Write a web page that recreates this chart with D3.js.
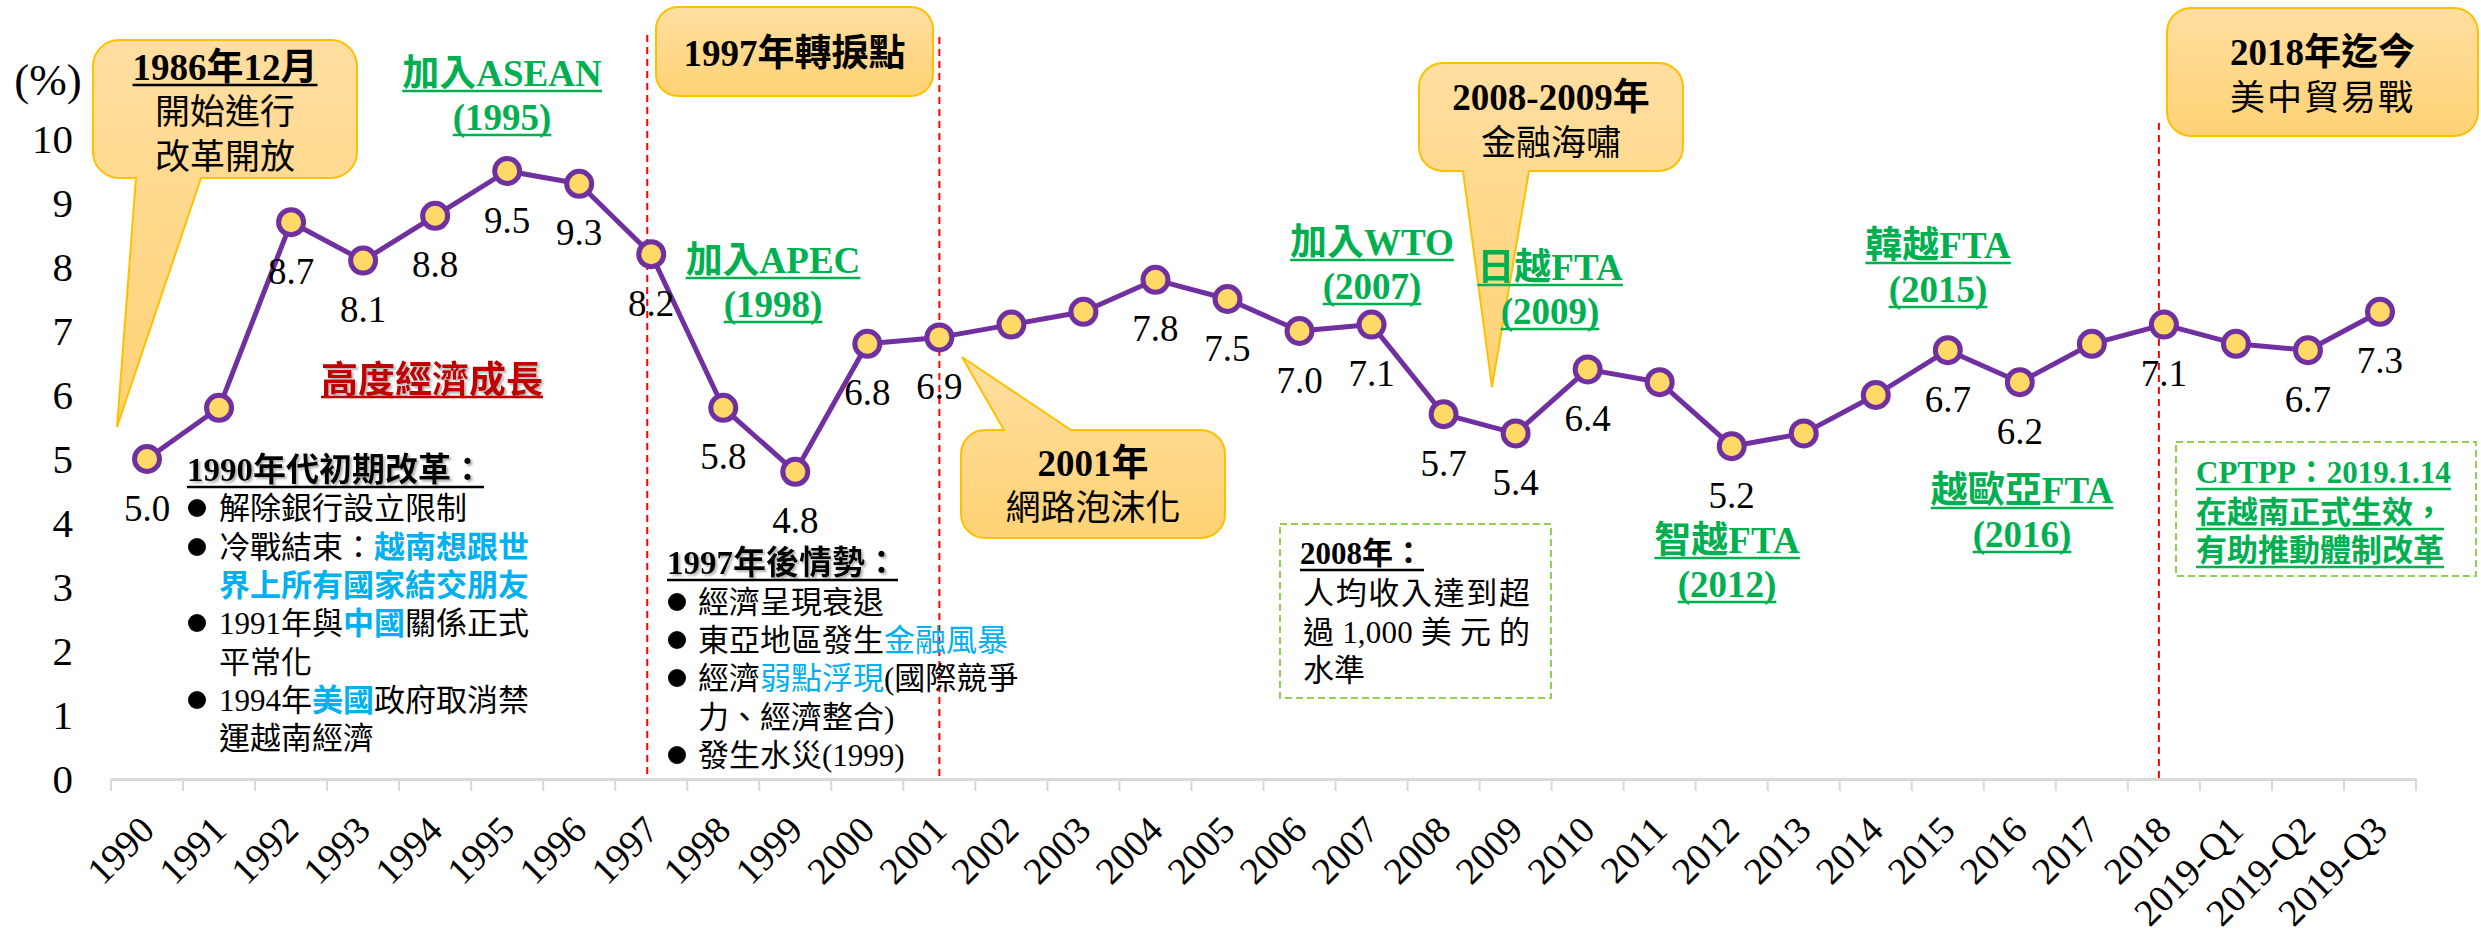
<!DOCTYPE html>
<html>
<head>
<meta charset="utf-8">
<script src="https://cdn.jsdelivr.net/npm/d3@7"></script>
<style>
  html, body { margin: 0; padding: 0; background: #ffffff; }
  svg text { font-family: 'Liberation Serif', 'Noto Sans CJK TC', serif; }
</style>
</head>
<body>
<div id="chart"></div>
<script>
'use strict';

// GDP growth of Vietnam (%)
const categories = ['1990', '1991', '1992', '1993', '1994', '1995', '1996', '1997', '1998', '1999',
    '2000', '2001', '2002', '2003', '2004', '2005', '2006', '2007', '2008', '2009',
    '2010', '2011', '2012', '2013', '2014', '2015', '2016', '2017', '2018',
    '2019-Q1', '2019-Q2', '2019-Q3'];
const growth = [5.0, 5.8, 8.7, 8.1, 8.8, 9.5, 9.3, 8.2, 5.8, 4.8,
    6.8, 6.9, 7.1, 7.3, 7.8, 7.5, 7.0, 7.1, 5.7, 5.4,
    6.4, 6.2, 5.2, 5.4, 6.0, 6.7, 6.2, 6.8, 7.1,
    6.8, 6.7, 7.3];
const labelledCategories = ['1990', '1992', '1993', '1994', '1995', '1996', '1997', '1998', '1999',
    '2000', '2001', '2004', '2005', '2006', '2007', '2008', '2009', '2010', '2012',
    '2015', '2016', '2018', '2019-Q2', '2019-Q3'];
const yTicks = [0, 1, 2, 3, 4, 5, 6, 7, 8, 9, 10];

const W = 2481;
const H = 938;
const FONT = "'Liberation Serif', 'Noto Sans CJK TC', serif";
const colour = {
    line: '#7030A0',
    marker: '#FFD966',
    green: '#00B050',
    blue: '#00B0F0',
    red: '#C00000',
    axis: '#D9D9D9',
    boxStroke: '#FFC000',
    dash: '#92D050'
};

const svg = d3.select('#chart')
    .append('svg')
    .attr('width', W)
    .attr('height', H);

svg.append('rect').attr('width', W).attr('height', H).attr('fill', '#ffffff');

const defs = svg.append('defs');
const grad = defs.append('linearGradient')
    .attr('id', 'boxFill')
    .attr('x1', 0).attr('y1', 0).attr('x2', 0).attr('y2', 1);
grad.append('stop').attr('offset', '0%').attr('stop-color', '#FFDEA0');
grad.append('stop').attr('offset', '100%').attr('stop-color', '#FFD274');

const shadow = defs.append('filter').attr('id', 'shadow')
    .attr('x', '-5%').attr('y', '-20%').attr('width', '115%').attr('height', '150%');
shadow.append('feDropShadow')
    .attr('dx', 2).attr('dy', 2).attr('stdDeviation', 1)
    .attr('flood-color', '#808080').attr('flood-opacity', 0.6);

const x = d3.scaleBand()
    .domain(categories)
    .range([111, 2416])
    .padding(0);

const y = d3.scaleLinear()
    .domain([0, 10])
    .range([779, 139]);

function cx(c) {
    return x(c) + x.bandwidth() / 2;
}

// axes
const xAxis = svg.append('g')
    .attr('transform', `translate(0,${y(0)})`)
    .call(d3.axisBottom(x).tickSize(0).tickSizeOuter(0).tickPadding(0));

xAxis.select('.domain')
    .attr('stroke', colour.axis)
    .attr('stroke-width', 3);

xAxis.selectAll('.tick text')
    .attr('font-family', FONT)
    .attr('font-size', 38)
    .attr('fill', '#000')
    .attr('text-anchor', 'end')
    .attr('y', 0)
    .attr('dy', '0.35em')
    .attr('transform', 'translate(0,44) rotate(-45)');

const boundaries = d3.range(categories.length + 1).map(function (i) {
    return x.range()[0] + i * x.step();
});

xAxis.selectAll('line.bound')
    .data(boundaries)
    .join('line')
    .attr('class', 'bound')
    .attr('x1', function (d) { return d; })
    .attr('x2', function (d) { return d; })
    .attr('y1', 0)
    .attr('y2', 12)
    .attr('stroke', colour.axis)
    .attr('stroke-width', 2);

const yAxis = svg.append('g')
    .attr('transform', `translate(${x.range()[0]},0)`)
    .call(d3.axisLeft(y).tickValues(yTicks).tickSize(0).tickPadding(38));

yAxis.select('.domain').remove();
yAxis.selectAll('.tick text')
    .attr('font-family', FONT)
    .attr('font-size', 41)
    .attr('fill', '#000');

svg.append('text')
    .attr('x', 48)
    .attr('y', 80)
    .attr('text-anchor', 'middle')
    .attr('dominant-baseline', 'central')
    .attr('font-size', 45)
    .text('(%)');

// era separators
const eraLines = [
    { cat: '1997', dx: -4, top: 35 },
    { cat: '2001', dx: 0, top: 37 },
    { cat: '2018', dx: -5, top: 123 }
];

svg.selectAll('line.era')
    .data(eraLines)
    .join('line')
    .attr('class', 'era')
    .attr('x1', function (d) { return cx(d.cat) + d.dx; })
    .attr('x2', function (d) { return cx(d.cat) + d.dx; })
    .attr('y1', function (d) { return d.top; })
    .attr('y2', y(0))
    .attr('stroke', '#FF0000')
    .attr('stroke-width', 2)
    .attr('stroke-dasharray', '7,5');

// callout boxes
function calloutPath(b, p) {
    const r = b.r;
    const x0 = b.x, y0 = b.y, x1 = b.x + b.w, y1 = b.y + b.h;
    let d = `M${x0 + r},${y0}`;
    if (p && p.side === 'top') {
        d += `L${p.a},${y0}L${p.tx},${p.ty}L${p.b},${y0}`;
    }
    d += `L${x1 - r},${y0}A${r},${r} 0 0 1 ${x1},${y0 + r}`;
    d += `L${x1},${y1 - r}A${r},${r} 0 0 1 ${x1 - r},${y1}`;
    if (p && p.side === 'bottom') {
        d += `L${p.b},${y1}L${p.tx},${p.ty}L${p.a},${y1}`;
    }
    d += `L${x0 + r},${y1}A${r},${r} 0 0 1 ${x0},${y1 - r}`;
    d += `L${x0},${y0 + r}A${r},${r} 0 0 1 ${x0 + r},${y0}Z`;
    return d;
}

const callouts = [
    { box: { x: 93, y: 40, w: 264, h: 138, r: 26 },
      ptr: { side: 'bottom', a: 136, b: 201, tx: 117, ty: 427 },
      lines: [
          { t: '1986年12月', y: 67, size: 37, bold: true, under: true },
          { t: '開始進行', y: 112, size: 35 },
          { t: '改革開放', y: 157, size: 35 }
      ] },
    { box: { x: 656, y: 7, w: 277, h: 89, r: 22 },
      ptr: null,
      lines: [
          { t: '1997年轉捩點', y: 53, size: 37, bold: true }
      ] },
    { box: { x: 961, y: 430, w: 264, h: 108, r: 24 },
      ptr: { side: 'top', a: 1004, b: 1071, tx: 962, ty: 357 },
      lines: [
          { t: '2001年', y: 463, size: 37, bold: true },
          { t: '網路泡沫化', y: 508, size: 35 }
      ] },
    { box: { x: 1419, y: 63, w: 264, h: 108, r: 24 },
      ptr: { side: 'bottom', a: 1463, b: 1529, tx: 1492, ty: 387 },
      lines: [
          { t: '2008-2009年', y: 97, size: 37, bold: true },
          { t: '金融海嘯', y: 143, size: 35 }
      ] },
    { box: { x: 2167, y: 8, w: 311, h: 128, r: 24 },
      ptr: null,
      lines: [
          { t: '2018年迄今', y: 52, size: 37, bold: true },
          { t: '美中貿易戰', y: 98, size: 35, spacing: 2 }
      ] }
];

function underline(textSel, colourName, offset) {
    const bb = textSel.node().getBBox();
    textSel.node().parentNode.appendChild(
        svg.append('line')
            .attr('x1', bb.x)
            .attr('x2', bb.x + bb.width)
            .attr('y1', +textSel.attr('y') + offset)
            .attr('y2', +textSel.attr('y') + offset)
            .attr('stroke', colourName)
            .attr('stroke-width', 2.5)
            .node()
    );
}

callouts.forEach(function (c) {
    const g = svg.append('g');
    g.append('path')
        .attr('d', calloutPath(c.box, c.ptr))
        .attr('fill', 'url(#boxFill)')
        .attr('stroke', colour.boxStroke)
        .attr('stroke-width', 2);
    c.lines.forEach(function (l) {
        const t = g.append('text')
            .attr('x', c.box.x + c.box.w / 2)
            .attr('y', l.y)
            .attr('text-anchor', 'middle')
            .attr('dominant-baseline', 'central')
            .attr('font-size', l.size)
            .attr('font-weight', l.bold ? 700 : 400)
            .attr('letter-spacing', l.spacing || 0)
            .attr('fill', '#000')
            .text(l.t);
        if (l.under) {
            underline(t, '#000', 18);
        }
    });
});

// growth line and markers
const line = d3.line()
    .x(function (d) { return cx(d.cat); })
    .y(function (d) { return y(d.value); });

const points = categories.map(function (c, i) {
    return { cat: c, value: growth[i] };
});

svg.append('path')
    .datum(points)
    .attr('d', line)
    .attr('fill', 'none')
    .attr('stroke', colour.line)
    .attr('stroke-width', 5)
    .attr('stroke-linejoin', 'round');

svg.selectAll('circle.pt')
    .data(points)
    .join('circle')
    .attr('class', 'pt')
    .attr('cx', function (d) { return cx(d.cat); })
    .attr('cy', function (d) { return y(d.value); })
    .attr('r', 12.5)
    .attr('fill', colour.marker)
    .attr('stroke', colour.line)
    .attr('stroke-width', 5);

svg.selectAll('text.val')
    .data(points.filter(function (d) { return labelledCategories.includes(d.cat); }))
    .join('text')
    .attr('class', 'val')
    .attr('x', function (d) { return cx(d.cat); })
    .attr('y', function (d) { return y(d.value) + 49; })
    .attr('text-anchor', 'middle')
    .attr('dominant-baseline', 'central')
    .attr('font-size', 37)
    .attr('fill', '#000')
    .text(function (d) { return d.value.toFixed(1); });

// green milestone labels
const milestones = [
    { l1: '加入ASEAN', l2: '(1995)', x: 502, y: 73 },
    { l1: '加入APEC', l2: '(1998)', x: 773, y: 260 },
    { l1: '加入WTO', l2: '(2007)', x: 1372, y: 242 },
    { l1: '日越FTA', l2: '(2009)', x: 1550, y: 267 },
    { l1: '韓越FTA', l2: '(2015)', x: 1938, y: 245 },
    { l1: '智越FTA', l2: '(2012)', x: 1727, y: 540 },
    { l1: '越歐亞FTA', l2: '(2016)', x: 2022, y: 490 }
];

milestones.forEach(function (m) {
    [m.l1, m.l2].forEach(function (str, i) {
        const t = svg.append('text')
            .attr('x', m.x)
            .attr('y', m.y + i * 44)
            .attr('text-anchor', 'middle')
            .attr('dominant-baseline', 'central')
            .attr('font-size', 37)
            .attr('font-weight', 700)
            .attr('fill', colour.green)
            .text(str);
        underline(t, colour.green, 18);
    });
});

const growthTitle = svg.append('text')
    .attr('x', 432)
    .attr('y', 380)
    .attr('text-anchor', 'middle')
    .attr('dominant-baseline', 'central')
    .attr('font-size', 37)
    .attr('font-weight', 700)
    .attr('fill', colour.red)
    .attr('filter', 'url(#shadow)')
    .text('高度經濟成長');
underline(growthTitle, colour.red, 17);

// text blocks
function textBlock(opts) {
    const g = svg.append('g');
    const title = g.append('text')
        .attr('x', opts.x)
        .attr('y', opts.titleY)
        .attr('dominant-baseline', 'central')
        .attr('font-size', opts.titleSize || 33)
        .attr('font-weight', 700)
        .attr('fill', opts.titleColour || '#000')
        .attr('filter', opts.shadow ? 'url(#shadow)' : null)
        .text(opts.title);
    underline(title, opts.titleColour || '#000', 17);
    opts.lines.forEach(function (ln) {
        if (ln.bullet) {
            g.append('circle')
                .attr('cx', opts.x + 10)
                .attr('cy', ln.y)
                .attr('r', 9)
                .attr('fill', '#000');
        }
        const t = g.append('text')
            .attr('x', opts.textX)
            .attr('y', ln.y)
            .attr('dominant-baseline', 'central')
            .attr('font-size', opts.size || 31);
        if (ln.fit) {
            t.attr('textLength', ln.fit).attr('lengthAdjust', 'spacing');
        }
        ln.parts.forEach(function (p) {
            t.append('tspan')
                .attr('fill', p[1] || '#000')
                .attr('font-weight', p[2] ? 700 : 400)
                .text(p[0]);
        });
        if (ln.under) {
            underline(t, ln.parts[0][1], 17);
        }
    });
}

textBlock({
    x: 187, textX: 219, titleY: 470, shadow: true,
    title: '1990年代初期改革：',
    lines: [
        { y: 508, bullet: true, parts: [['解除銀行設立限制']] },
        { y: 547, bullet: true, parts: [['冷戰結束：'], ['越南想跟世', colour.blue, true]] },
        { y: 585, parts: [['界上所有國家結交朋友', colour.blue, true]] },
        { y: 623, bullet: true, parts: [['1991年與'], ['中國', colour.blue, true], ['關係正式']] },
        { y: 662, parts: [['平常化']] },
        { y: 700, bullet: true, parts: [['1994年'], ['美國', colour.blue, true], ['政府取消禁']] },
        { y: 738, parts: [['運越南經濟']] }
    ]
});

textBlock({
    x: 667, textX: 698, titleY: 563, shadow: true,
    title: '1997年後情勢：',
    lines: [
        { y: 602, bullet: true, parts: [['經濟呈現衰退']] },
        { y: 640, bullet: true, parts: [['東亞地區發生'], ['金融風暴', colour.blue]] },
        { y: 678, bullet: true, parts: [['經濟'], ['弱點浮現', colour.blue], ['(國際競爭']] },
        { y: 717, parts: [['力、經濟整合)']] },
        { y: 755, bullet: true, parts: [['發生水災(1999)']] }
    ]
});

// dashed note boxes
const noteBoxes = [
    { x: 1280, y: 524, w: 271, h: 174 },
    { x: 2176, y: 442, w: 300, h: 134 }
];

svg.selectAll('rect.note')
    .data(noteBoxes)
    .join('rect')
    .attr('class', 'note')
    .attr('x', function (d) { return d.x; })
    .attr('y', function (d) { return d.y; })
    .attr('width', function (d) { return d.w; })
    .attr('height', function (d) { return d.h; })
    .attr('fill', 'none')
    .attr('stroke', colour.dash)
    .attr('stroke-width', 2)
    .attr('stroke-dasharray', '7,4');

textBlock({
    x: 1300, textX: 1303, titleY: 553, titleSize: 31,
    title: '2008年：',
    lines: [
        { y: 593, fit: 227, parts: [['人均收入達到超']] },
        { y: 632, fit: 227, parts: [['過 1,000 美 元 的']] },
        { y: 670, parts: [['水準']] }
    ]
});

textBlock({
    x: 2196, textX: 2196, titleY: 472, titleSize: 31, titleColour: colour.green,
    title: 'CPTPP：2019.1.14',
    lines: [
        { y: 512, under: true, parts: [['在越南正式生效，', colour.green, true]] },
        { y: 550, under: true, parts: [['有助推動體制改革', colour.green, true]] }
    ]
});
</script>
</body>
</html>
